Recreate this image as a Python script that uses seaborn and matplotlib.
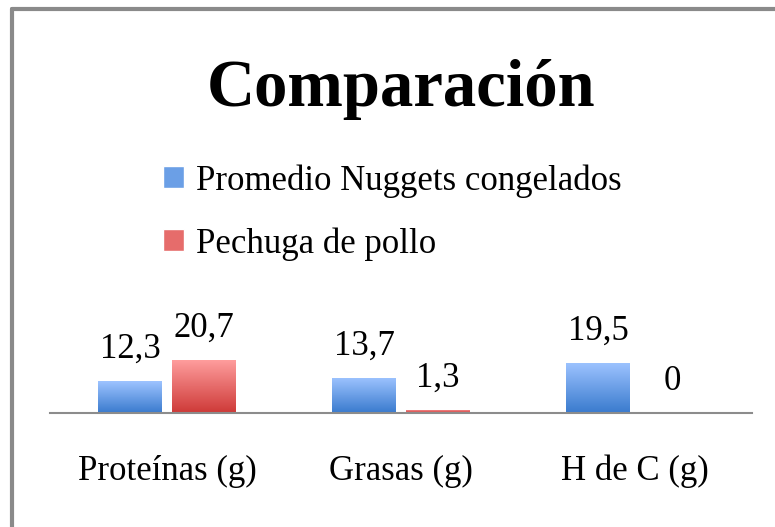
import seaborn as sns
import matplotlib.pyplot as plt
import matplotlib.patches as mpatches
import numpy as np
import pandas as pd

# data
categorias = ["Proteínas (g)", "Grasas (g)", "H de C (g)"]
nuggets = [12.3, 13.7, 19.5]
pollo = [20.7, 1.3, 0]
series = ["Promedio Nuggets congelados", "Pechuga de pollo"]

df = pd.DataFrame({
    "categoria": categorias * 2,
    "valor": nuggets + pollo,
    "serie": [series[0]] * 3 + [series[1]] * 3,
})

# colours: (top, bottom) of the gradient
grad = {
    series[0]: ("#9DC3FF", "#3A7BCE"),
    series[1]: ("#FF9E9E", "#CE3A38"),
}

sns.set_style("white")
plt.rcParams["font.family"] = ["Liberation Serif", "DejaVu Serif"]
plt.rcParams["text.color"] = "black"
plt.rcParams["xtick.color"] = "black"

fig = plt.figure(figsize=(7.75, 5.27), dpi=100)
ax = fig.add_axes([50 / 775, 114 / 527, 702 / 775, 113 / 527])

sns.barplot(data=df, x="categoria", y="valor", hue="serie", hue_order=series,
            palette=[grad[s][1] for s in series], width=0.63, gap=0.14,
            legend=False, ax=ax)

# vertical gradient fill for each bar
for cont, s in zip(ax.containers, series):
    top, bot = grad[s]
    cmap = sns.blend_palette([bot, top], as_cmap=True)
    for p in cont.patches:
        x0, y0 = p.get_x(), p.get_y()
        w, h = p.get_width(), p.get_height()
        if h <= 0:
            continue
        p.set_facecolor("none")
        p.set_edgecolor("none")
        im = ax.imshow(np.linspace(0, 1, 64).reshape(-1, 1), cmap=cmap,
                       origin="lower", aspect="auto",
                       extent=[x0, x0 + w, y0, y0 + max(h, 0.6)], zorder=2)
        im.set_clip_path(p)
    ax.bar_label(cont, labels=[f"{v:g}".replace(".", ",") for v in cont.datavalues],
                 padding=11, fontsize=25, color="black")
ax.set_xlim(-0.5, 2.5)
ax.set_ylim(0, 44)

ax.set_xlabel("")
ax.set_ylabel("")
ax.set_yticks([])
ax.tick_params(axis="x", length=0, pad=30, labelsize=25, labelcolor="black")
for side in ["top", "left", "right"]:
    ax.spines[side].set_visible(False)
ax.spines["bottom"].set_color("#8C8C8C")
ax.spines["bottom"].set_linewidth(1.5)

fig.text(0.517, 0.83, "Comparación", ha="center", va="center",
         fontsize=48, fontweight="bold", color="black")

handles = [mpatches.Patch(facecolor=sns.blend_palette(list(grad[s]), 3)[1], label=s)
           for s in series]
fig.legend(handles=handles, loc="upper left", bbox_to_anchor=(0.193, 0.715),
           frameon=False, fontsize=25, handlelength=0.6, handleheight=0.6,
           handletextpad=0.35, labelspacing=0.85, borderaxespad=0)

# chart frame (only top and left edges are visible in the crop)
fig.add_artist(plt.Line2D([12 / 775, 1], [1 - 9 / 527] * 2, color="#8A8A8A", lw=3,
                          transform=fig.transFigure))
fig.add_artist(plt.Line2D([12 / 775] * 2, [0, 1 - 9 / 527], color="#8A8A8A", lw=3,
                          transform=fig.transFigure))

fig.savefig("out.png", dpi=100)
plt.close(fig)
